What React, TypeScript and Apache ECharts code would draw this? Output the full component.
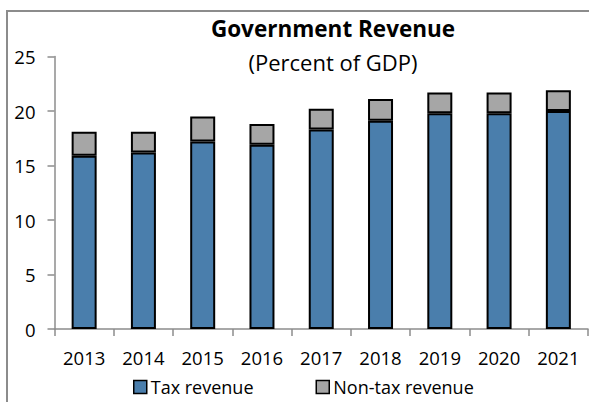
import React, { useEffect, useRef } from "react";
import * as echarts from "echarts";

const years = ["2013", "2014", "2015", "2016", "2017", "2018", "2019", "2020", "2021"];
const taxRevenue = [15.9, 16.2, 17.2, 16.9, 18.3, 19.1, 19.8, 19.8, 20.0];
const nonTaxRevenue = [2.2, 1.9, 2.3, 1.9, 1.9, 2.0, 1.9, 1.9, 1.9];
const yTicks = { min: 0, max: 25, interval: 5 };

const FONT = "'Open Sans', 'Noto Sans', sans-serif";

export default function App() {
  const ref = useRef<HTMLDivElement>(null);
  useEffect(() => {
    if (!ref.current) return;
    const chart = echarts.init(ref.current, undefined, { renderer: "svg" });
    chart.setOption({
      animation: false,
      backgroundColor: "#ffffff",
      title: [
        {
          text: "Government Revenue",
          left: 333,
          top: 17,
          padding: 0,
          textAlign: "center",
          textStyle: { fontFamily: FONT, fontSize: 22.5, fontWeight: "bold", color: "#000" },
        },
        {
          text: "(Percent of GDP)",
          left: 333,
          top: 51,
          padding: 0,
          textAlign: "center",
          textStyle: { fontFamily: FONT, fontSize: 22, fontWeight: "normal", color: "#000" },
        },
      ],
      graphic: [
        {
          type: "rect",
          shape: { x: 7, y: 11, width: 700, height: 600 },
          style: { fill: "none", stroke: "#8c8c8c", lineWidth: 2 },
          silent: true,
        },
      ],
      legend: {
        left: 133,
        top: 378,
        padding: 0,
        itemWidth: 13,
        itemHeight: 13,
        itemGap: 62,
        icon: "rect",
        textStyle: { fontFamily: FONT, fontSize: 18, color: "#000", padding: [0, 0, 0, -1] },
        data: [
          { name: "Tax revenue", itemStyle: { borderColor: "#000", borderWidth: 1.5 } },
          { name: "Non-tax revenue", itemStyle: { borderColor: "#000", borderWidth: 1.5 } },
        ],
      },
      grid: { left: 54.5, right: 1, top: 56.5, bottom: 73, containLabel: false },
      xAxis: {
        type: "category",
        data: years,
        axisLine: { lineStyle: { color: "#8c8c8c", width: 1.5 } },
        axisTick: { show: true, length: 7, lineStyle: { color: "#8c8c8c", width: 1.5 } },
        axisLabel: { fontFamily: FONT, fontSize: 18.5, color: "#000", margin: 19 },
      },
      yAxis: {
        type: "value",
        min: yTicks.min,
        max: yTicks.max,
        interval: yTicks.interval,
        axisLine: { show: true, lineStyle: { color: "#8c8c8c", width: 1.5 } },
        axisTick: { show: true, length: 7, lineStyle: { color: "#8c8c8c", width: 1.5 } },
        splitLine: { show: false },
        axisLabel: { fontFamily: FONT, fontSize: 18.5, color: "#000", margin: 19 },
      },
      series: [
        {
          name: "Tax revenue",
          type: "bar",
          stack: "rev",
          data: taxRevenue,
          barWidth: 25,
          itemStyle: { color: "#4a7eac", borderColor: "#000", borderWidth: 2 },
        },
        {
          name: "Non-tax revenue",
          type: "bar",
          stack: "rev",
          data: nonTaxRevenue,
          barWidth: 25,
          itemStyle: { color: "#a6a6a6", borderColor: "#000", borderWidth: 2 },
        },
      ],
    });
    return () => chart.dispose();
  }, []);
  return <div ref={ref} style={{ width: 589, height: 402, position: "absolute", left: 0, top: 0 }} />;
}
